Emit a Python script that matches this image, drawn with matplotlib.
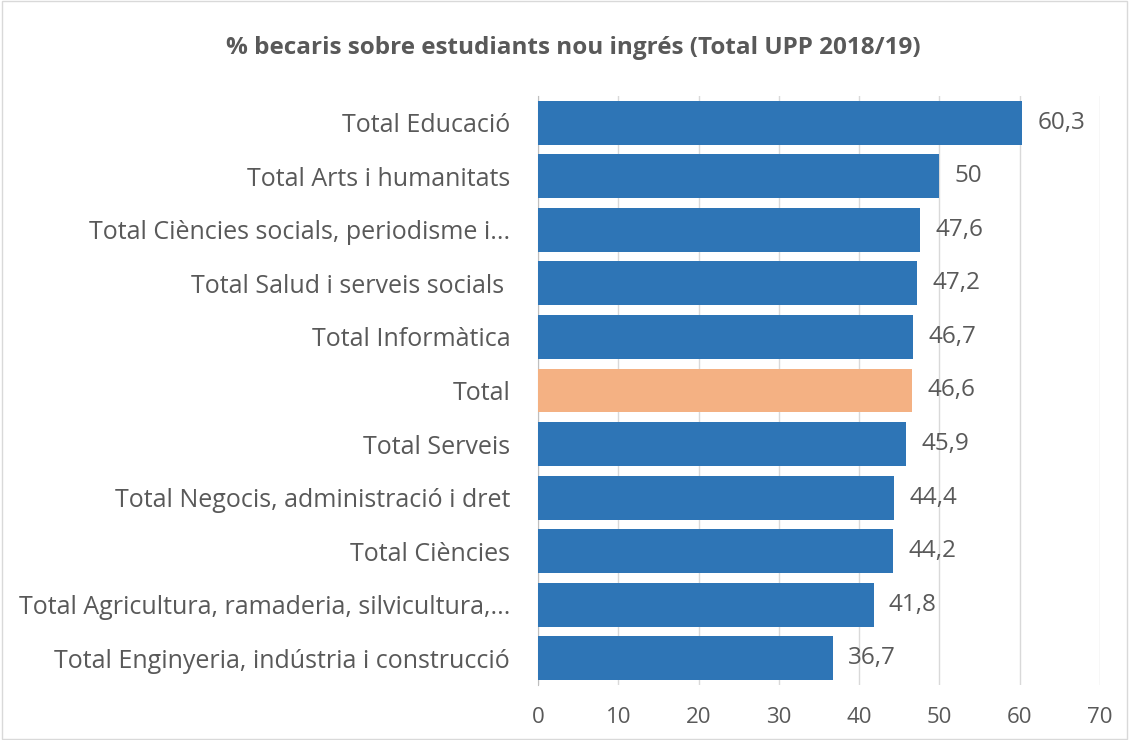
import matplotlib.pyplot as plt
from matplotlib.patches import Rectangle

# dades (de dalt a baix)
categories = [
    'Total Educació',
    'Total Arts i humanitats',
    'Total Ciències socials, periodisme i...',
    'Total Salud i serveis socials ',
    'Total Informàtica',
    'Total',
    'Total Serveis',
    'Total Negocis, administració i dret',
    'Total Ciències',
    'Total Agricultura, ramaderia, silvicultura,...',
    'Total Enginyeria, indústria i construcció',
]
values = [60.3, 50, 47.6, 47.2, 46.7, 46.6, 45.9, 44.4, 44.2, 41.8, 36.7]
highlight = 'Total'

blue = '#2e75b6'
orange = '#f4b183'
grey_txt = '#595959'

plt.rcParams['font.family'] = ['Open Sans', 'DejaVu Sans']

fig = plt.figure(figsize=(11.29, 7.4), dpi=100)
fig.patches.append(Rectangle((0.002, 0.002), 0.996, 0.996, transform=fig.transFigure,
                             fill=False, edgecolor='#d9d9d9', linewidth=1))
ax = fig.add_axes([0.4765, 0.0743, 0.4978, 0.796])

ypos = list(range(len(categories)))
colors = [orange if c == highlight else blue for c in categories]
bars = ax.barh(ypos, values, height=0.82, color=colors, zorder=3)

for y, v in zip(ypos, values):
    lbl = f'{v:g}'.replace('.', ',')
    ax.text(v + 1.9, y, lbl, va='center', ha='left', fontsize=17.5, color=grey_txt)

ax.set_ylim(len(categories) - 0.5, -0.5)
ax.set_xlim(0, 70)
ax.set_xticks(range(0, 71, 10))
ax.set_yticks(ypos)
ax.set_yticklabels(categories, fontsize=18, color=grey_txt)
ax.tick_params(axis='y', length=0, pad=20)
ax.tick_params(axis='x', length=0, pad=16, labelsize=16, labelcolor=grey_txt)
ax.grid(axis='x', color='#d9d9d9', linewidth=1, zorder=0)
for s in ['top', 'right', 'bottom']:
    ax.spines[s].set_visible(False)
ax.spines['left'].set_color('#bfbfbf')

fig.text(0.508, 0.935, '% becaris sobre estudiants nou ingrés (Total UPP 2018/19)',
         ha='center', va='center', fontsize=17.5, fontweight='bold', color=grey_txt)

fig.savefig('out.png', dpi=100)
